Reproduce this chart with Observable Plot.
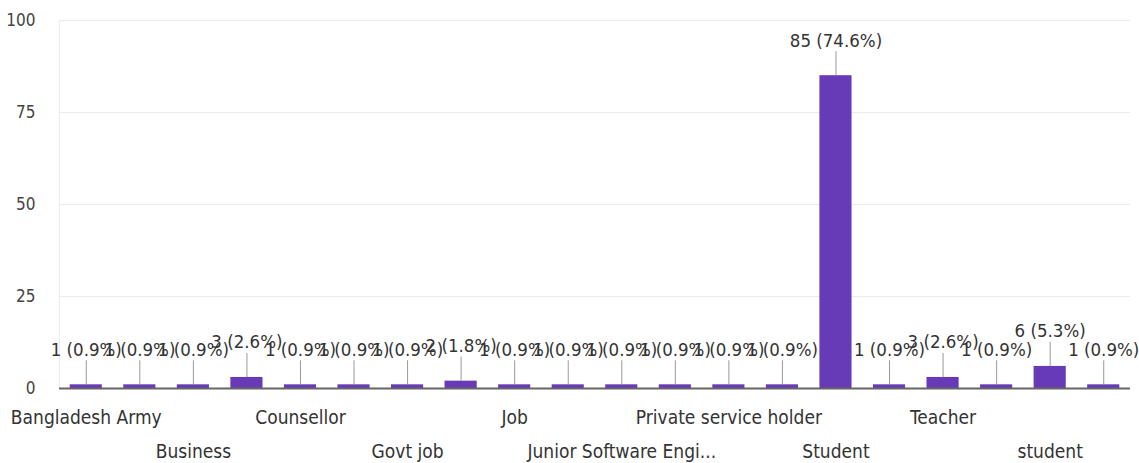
<!DOCTYPE html>
<html>
<head>
<meta charset="utf-8">
<script src="https://cdn.jsdelivr.net/npm/d3@7"></script>
<script src="https://cdn.jsdelivr.net/npm/@observablehq/plot@0.6"></script>
<style>
  html, body { margin: 0; padding: 0; background: #fff; }
  #chart svg { display: block; }
</style>
</head>
<body>
<div id="chart"></div>
<script>
// Categories (alphabetical as in the form summary; only every other label is shown)
const categories = [
  "Bangladesh Army", "Bank officer", "Business", "Businessman", "Counsellor",
  "Doctor", "Govt job", "Housewife", "Job", "Job holder",
  "Junior Software Engineer", "Lecturer", "Private service holder", "Service", "Student",
  "Study", "Teacher", "Unemployed", "student", "studying"
];
const counts = [1, 1, 1, 3, 1, 1, 1, 2, 1, 1, 1, 1, 1, 1, 85, 1, 3, 1, 6, 1];
const tickLabels = [
  "Bangladesh Army", "", "Business", "", "Counsellor",
  "", "Govt job", "", "Job", "",
  "Junior Software Engi...", "", "Private service holder", "", "Student",
  "", "Teacher", "", "student", ""
];
const yTicks = [0, 25, 50, 75, 100];

const total = d3.sum(counts);
const data = categories.map((c, i) => ({
  category: c,
  count: counts[i],
  label: `${counts[i]} (${(counts[i] / total * 100).toFixed(1)}%)`,
  tick: tickLabels[i],
  row: (i % 4 === 0) ? 1 : 2
}));

const W = 1139, H = 463;
const mTop = 20, mBottom = 75, mLeft = 59, mRight = 9;
const plotH = H - mTop - mBottom;
const yMax = 100;
const leader = 24 * yMax / plotH; // leader-line length in data units (24px)

const font = "'Liberation Sans Narrow', 'DejaVu Sans Condensed', 'Roboto', sans-serif";

const chart = Plot.plot({
  width: W,
  height: H,
  marginTop: mTop,
  marginBottom: mBottom,
  marginLeft: mLeft,
  marginRight: mRight,
  style: { fontFamily: font, fontSize: "17px", color: "#444", background: "#fff" },
  x: { domain: categories, paddingInner: 0.4, paddingOuter: 0.2, round: false, axis: null },
  y: { domain: [0, yMax], ticks: yTicks, tickSize: 0, tickPadding: 24, label: null, tickFormat: d => d },
  marks: [
    Plot.ruleY(yTicks.filter(d => d > 0), { stroke: "#ebebeb", strokeWidth: 1 }),
    Plot.ruleX([categories[0]], { stroke: "#ebebeb", strokeWidth: 1, dx: -27, y1: 0, y2: yMax }),
    Plot.barY(data, { x: "category", y: "count", fill: "#673ab7" }),
    Plot.ruleX(data, { x: "category", y1: "count", y2: d => d.count + leader, stroke: "#999", strokeWidth: 1 }),
    Plot.text(data, { x: "category", y: "count", text: "label", dy: -35, fill: "#333", fontSize: 18.5 }),
    Plot.ruleY([0], { stroke: "#666", strokeWidth: 2 }),
    Plot.text(data.filter(d => d.tick && d.row === 1), { x: "category", text: "tick", frameAnchor: "bottom", dy: 35, fill: "#333", fontSize: 19 }),
    Plot.text(data.filter(d => d.tick && d.row === 2), { x: "category", text: "tick", frameAnchor: "bottom", dy: 69, fill: "#333", fontSize: 19 })
  ]
});
document.getElementById("chart").appendChild(chart);
</script>
</body>
</html>
